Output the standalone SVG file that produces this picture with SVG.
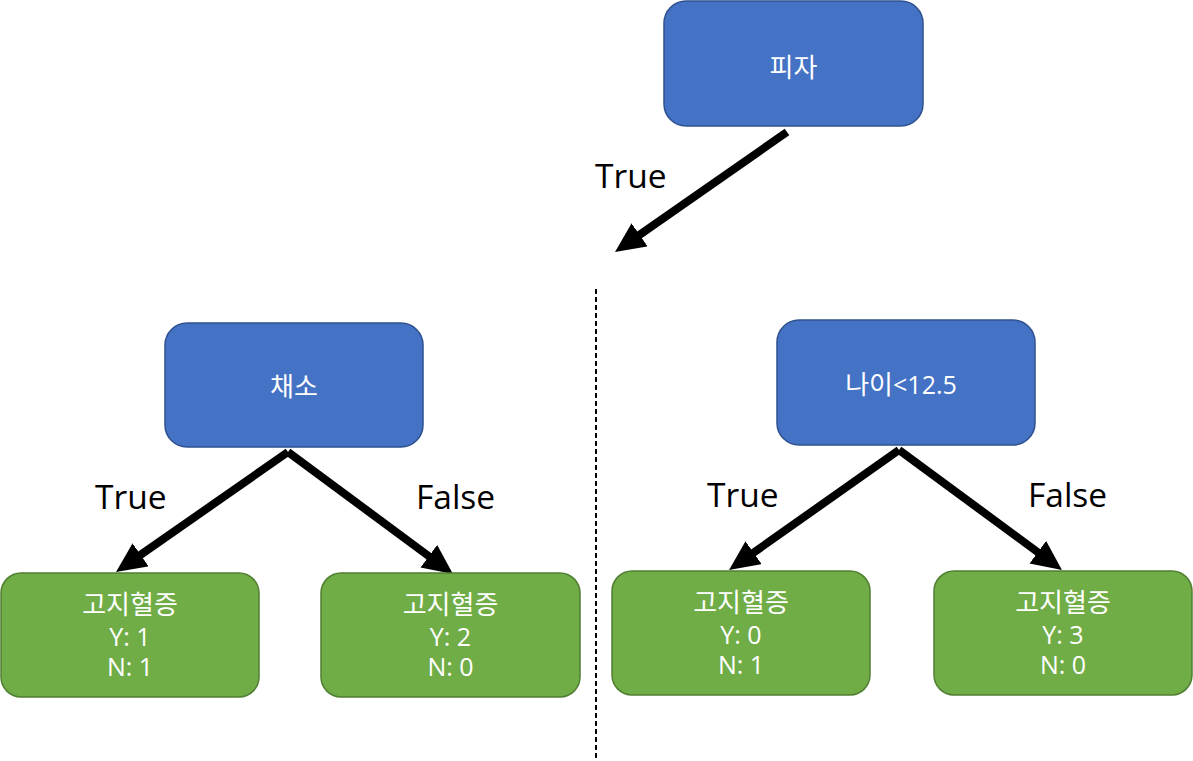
<svg xmlns="http://www.w3.org/2000/svg" width="1193" height="761" viewBox="0 0 1193 761">
<style>
.blue{fill:#4472C4;stroke:#2F528F;stroke-width:1.5}
.green{fill:#70AD47;stroke:#507E32;stroke-width:1.5}
.t{font-family:"Open Sans","Noto Sans CJK KR",sans-serif;fill:#fff;text-anchor:middle;font-size:25px}
.ko{font-family:"Noto Sans CJK KR",sans-serif;font-size:26px}
.lab{font-family:"Open Sans","Noto Sans",sans-serif;font-size:33.5px;fill:#000}
.arr{stroke:#000;stroke-width:8;fill:none}
</style>
<defs>
<marker id="ah" markerUnits="userSpaceOnUse" markerWidth="32" markerHeight="30" refX="15" refY="14" orient="auto" viewBox="0 0 32 30">
<path d="M0,0 L30,14 L0,28 z" fill="#000"/>
</marker>
</defs>
<rect width="1193" height="761" fill="#fff"/>
<g id="connectors">
<line class="arr" x1="787" y1="132" x2="627.3" y2="243.4" marker-end="url(#ah)"/>
<line class="arr" x1="288" y1="452" x2="128.3" y2="563.4" marker-end="url(#ah)"/>
<line class="arr" x1="288" y1="452" x2="440.9" y2="565.1" marker-end="url(#ah)"/>
<line class="arr" x1="899" y1="450" x2="741.3" y2="561.3" marker-end="url(#ah)"/>
<line class="arr" x1="899" y1="450" x2="1049.9" y2="561.1" marker-end="url(#ah)"/>
<line x1="596" y1="289" x2="596" y2="761" stroke="#000" stroke-width="2" stroke-dasharray="5,3"/>
</g>
<g id="labels">
<text class="lab" x="595" y="188">True</text>
<text class="lab" x="95" y="509">True</text>
<text class="lab" x="416" y="509">False</text>
<text class="lab" x="707" y="507">True</text>
<text class="lab" x="1028" y="507">False</text>
</g>
<g id="node-pizza">
<rect class="blue" x="664" y="1" width="259" height="125" rx="22"/>
<text class="t ko" x="793.5" y="77">피자</text>
</g>
<g id="node-veg">
<rect class="blue" x="165" y="323" width="258" height="124" rx="22"/>
<text class="t ko" x="294" y="396">채소</text>
</g>
<g id="node-age">
<rect class="blue" x="777" y="320" width="258" height="125" rx="22"/>
<text class="t" x="901" y="394"><tspan class="ko">나이</tspan>&lt;12.5</text>
</g>
<g id="leaf-1">
<rect class="green" x="1" y="573" width="258" height="124" rx="20"/>
<text class="t ko" x="130" y="614">고지혈증</text>
<text class="t" x="130" y="646">Y: 1</text>
<text class="t" x="130" y="676">N: 1</text>
</g>
<g id="leaf-2">
<rect class="green" x="321" y="573" width="259" height="124" rx="20"/>
<text class="t ko" x="450.5" y="614">고지혈증</text>
<text class="t" x="450.5" y="646">Y: 2</text>
<text class="t" x="450.5" y="676">N: 0</text>
</g>
<g id="leaf-3">
<rect class="green" x="612" y="571" width="258" height="124" rx="20"/>
<text class="t ko" x="741" y="612">고지혈증</text>
<text class="t" x="741" y="644">Y: 0</text>
<text class="t" x="741" y="674">N: 1</text>
</g>
<g id="leaf-4">
<rect class="green" x="934" y="571" width="258" height="124" rx="20"/>
<text class="t ko" x="1063" y="612">고지혈증</text>
<text class="t" x="1063" y="644">Y: 3</text>
<text class="t" x="1063" y="674">N: 0</text>
</g>
</svg>
